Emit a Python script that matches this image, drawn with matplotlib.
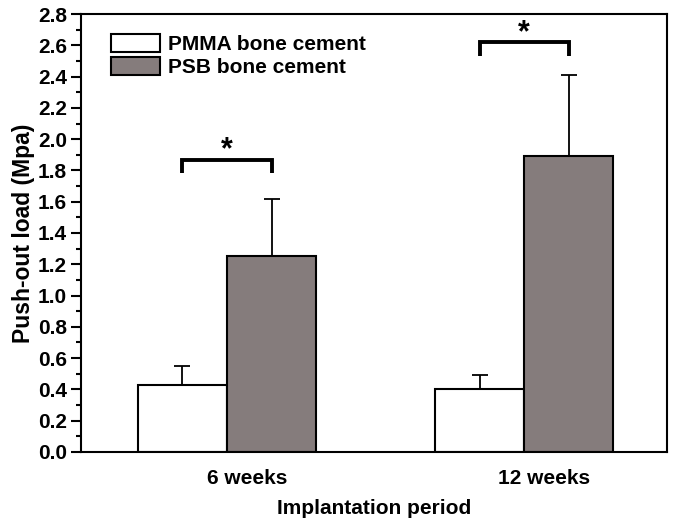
import numpy as np
import matplotlib.pyplot as plt
from matplotlib.ticker import MultipleLocator

plt.rcParams['font.family'] = ['Liberation Sans', 'DejaVu Sans']
plt.rcParams['font.weight'] = 'bold'

periods = ['6 weeks', '12 weeks']
pmma = [0.43, 0.40]
pmma_err = [0.12, 0.09]
psb = [1.25, 1.89]
psb_err = [0.37, 0.52]
# significance bracket heights
sig_y = [1.87, 2.62]

x = np.arange(1, len(periods) + 1)
w = 0.3

fig = plt.figure(figsize=(6.79, 5.23), dpi=100)
ax = fig.add_axes([0.119, 0.136, 0.863, 0.837])

ax.bar(x - w / 2, pmma, w, color='white', edgecolor='black', linewidth=1.5,
       label='PMMA bone cement', zorder=2)
ax.bar(x + w / 2, psb, w, color='#857c7c', edgecolor='black', linewidth=1.5,
       label='PSB bone cement', zorder=2)
ax.errorbar(x - w / 2, pmma, yerr=[np.zeros(2), pmma_err], fmt='none',
            ecolor='black', elinewidth=1.3, capsize=5.5, capthick=1.3, zorder=1)
ax.errorbar(x + w / 2, psb, yerr=[np.zeros(2), psb_err], fmt='none',
            ecolor='black', elinewidth=1.3, capsize=5.5, capthick=1.3, zorder=1)

# significance brackets
for xi, yi in zip(x, sig_y):
    ax.plot([xi - w / 2, xi - w / 2, xi + w / 2, xi + w / 2],
            [yi - 0.085, yi, yi, yi - 0.085], color='black', lw=2.8,
            solid_joinstyle='miter', solid_capstyle='butt')
    ax.text(xi, yi + 0.005, '*', ha='center', va='baseline', fontsize=22,
            fontweight='bold')

ax.set_xlim(0.508, 2.48)
ax.set_ylim(0, 2.8)
# the category labels sit slightly right of the group centres
ax.set_xticks(x + 0.067)
ax.set_xticklabels(periods, fontsize=15, fontweight='bold')
ax.tick_params(axis='x', length=0, pad=12)
ax.yaxis.set_minor_locator(MultipleLocator(0.1))
yt = np.arange(0, 2.81, 0.2)
ax.set_yticks(yt)
ax.set_yticklabels([f'{v:.1f}' for v in yt], fontsize=15, fontweight='bold')
ax.tick_params(axis='y', which='major', length=7, width=1.5, direction='out',
               pad=3)
ax.tick_params(axis='y', which='minor', length=3.5, width=1.5, direction='out')
for s in ax.spines.values():
    s.set_linewidth(1.5)

ax.set_xlabel('Implantation period', fontsize=15, fontweight='bold', labelpad=8)
ax.set_ylabel('Push-out load (Mpa)', fontsize=16.5, fontweight='bold', labelpad=2)

leg = ax.legend(loc='upper left', bbox_to_anchor=(0.052, 0.955), frameon=False,
                fontsize=15, handlelength=2.35, handleheight=0.95,
                handletextpad=0.35, labelspacing=0.15, borderaxespad=0,
                borderpad=0)
for t in leg.get_texts():
    t.set_fontweight('bold')

fig.savefig('out.png', dpi=100)
